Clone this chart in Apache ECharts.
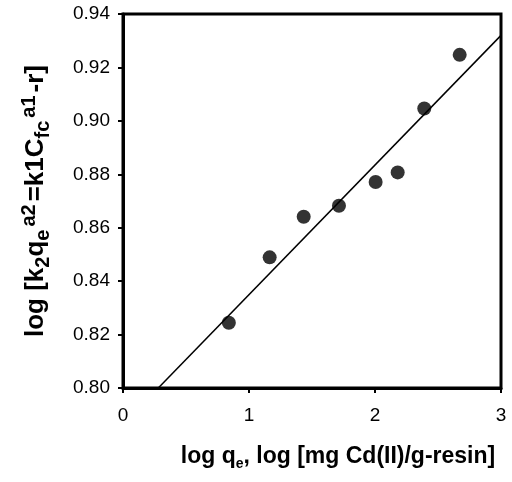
<!DOCTYPE html>
<html>
<head>
<meta charset="utf-8">
<script src="https://cdn.jsdelivr.net/npm/echarts@6/dist/echarts.min.js"></script>
<style>html,body{margin:0;padding:0;background:#fff}#c{width:512px;height:482px}</style>
</head>
<body>
<div id="c"></div>
<script>
var logQe = [0.84, 1.164, 1.434, 1.714, 2.005, 2.18, 2.391, 2.672];
var logK = [0.8244, 0.8489, 0.8641, 0.8682, 0.8771, 0.8807, 0.9046, 0.9247];
var fitX = [0.28, 3.0];
var fitY = [0.800, 0.932];
var xTicks = [0, 1, 2, 3];
var yTicks = [0.80, 0.82, 0.84, 0.86, 0.88, 0.90, 0.92, 0.94];

var chart = echarts.init(document.getElementById('c'));
var F = 'Liberation Sans, Arial, sans-serif';
chart.setOption({
  animation: false,
  backgroundColor: '#fff',
  grid: {left: 123, right: 11, top: 14, bottom: 94, show: true, borderColor: '#000', borderWidth: 3},
  xAxis: {
    type: 'value', min: xTicks[0], max: xTicks[xTicks.length-1], interval: 1,
    splitLine: {show: false},
    axisLine: {lineStyle: {color: '#000', width: 3}},
    axisTick: {inside: false, length: 5, lineStyle: {color: '#000', width: 2}},
    axisLabel: {color: '#000', fontFamily: F, fontSize: 19, margin: 18},
    name: '{m|log q}{sub|e}{m|, log [mg Cd(II)/g-resin]}',
    nameLocation: 'middle', nameGap: 55,
    nameTextStyle: {
      padding: [0, 0, 0, 52],
      rich: {
        m: {fontFamily: F, fontWeight: 'bold', fontSize: 23, color: '#000', lineHeight: 28},
        sub: {fontFamily: F, fontWeight: 'bold', fontSize: 14, color: '#000', lineHeight: 17, verticalAlign: 'bottom'}
      }
    }
  },
  yAxis: {
    type: 'value', min: yTicks[0], max: yTicks[yTicks.length-1], interval: 0.02,
    splitLine: {show: false},
    axisLine: {lineStyle: {color: '#000', width: 3}},
    axisTick: {inside: false, length: 5, lineStyle: {color: '#000', width: 2}},
    axisLabel: {color: '#000', fontFamily: F, fontSize: 19, margin: 13, formatter: function(v){return v.toFixed(2);}},
    name: '{m|log [k}{sub|2}{m|q}{sub|e}{sup|a2}{m|=k1C}{sub|fc}{sup|a1}{m|-r]}',
    nameLocation: 'middle', nameGap: 70, nameRotate: 90,
    nameTextStyle: {
      rich: {
        m: {fontFamily: F, fontWeight: 'bold', fontSize: 26, color: '#000', lineHeight: 34},
        sub: {fontFamily: F, fontWeight: 'bold', fontSize: 20, color: '#000', lineHeight: 23, verticalAlign: 'bottom'},
        sup: {fontFamily: F, fontWeight: 'bold', fontSize: 20, color: '#000', lineHeight: 17, verticalAlign: 'top', padding: [0, 3, 0, 3]}
      }
    }
  },
  series: [
    {
      type: 'line', data: fitX.map(function(x, i){return [x, fitY[i]];}),
      showSymbol: false, symbol: 'none',
      lineStyle: {color: '#000', width: 1.5}
    },
    {
      type: 'scatter', data: logQe.map(function(x, i){return [x, logK[i]];}),
      symbol: 'circle', symbolSize: 14,
      itemStyle: {color: '#000'}
    }
  ]
});
</script>
</body>
</html>
